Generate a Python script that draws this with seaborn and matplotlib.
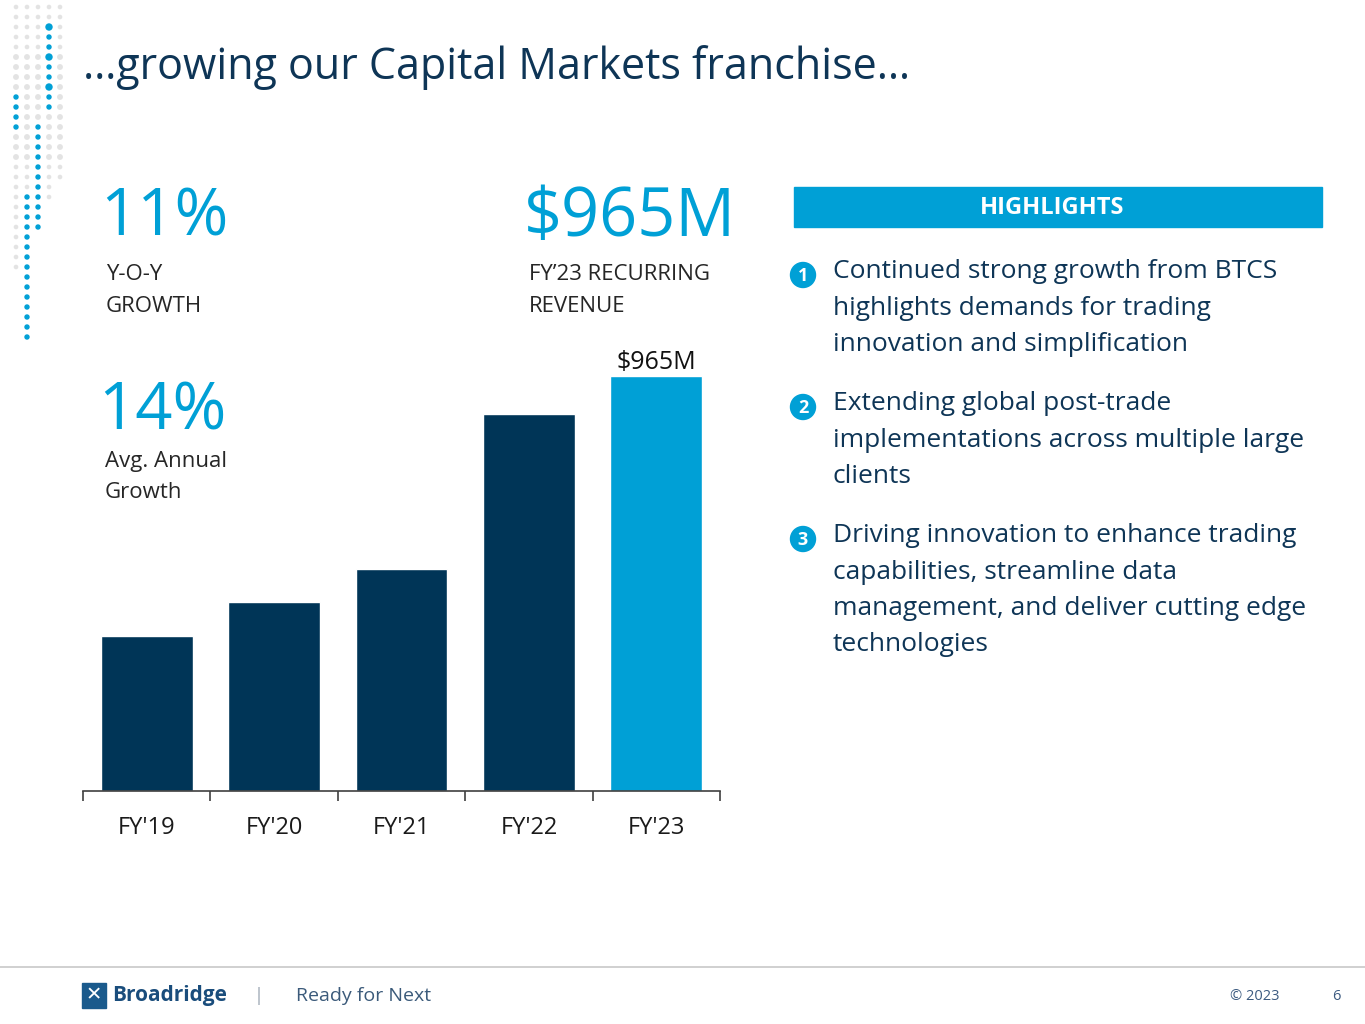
import numpy as np
import pandas as pd
import matplotlib
matplotlib.use("Agg")
import matplotlib.pyplot as plt
from matplotlib.patches import Rectangle, Circle
import seaborn as sns

# Chart data
years = ["FY'19", "FY'20", "FY'21", "FY'22", "FY'23"]
revenue = [360, 439, 516, 877, 965]
bar_colors = ["#003557", "#003557", "#003557", "#003557", "#00A0D6"]
top_label = "$965M"

highlights = [
    ["Continued strong growth from BTCS", "highlights demands for trading",
     "innovation and simplification"],
    ["Extending global post-trade", "implementations across multiple large", "clients"],
    ["Driving innovation to enhance trading", "capabilities, streamline data",
     "management, and deliver cutting edge", "technologies"],
]

W, H = 1365, 1024
NAVY = "#0E3556"
BLUE = "#00A0D6"
GREY_TXT = "#262626"

sns.set_theme(style="white")
plt.rcParams["font.family"] = ["Open Sans", "DejaVu Sans"]

fig = plt.figure(figsize=(W / 100, H / 100), dpi=100)

# overlay axes in pixel coordinates for the slide furniture
bg = fig.add_axes([0, 0, 1, 1], zorder=-1)
bg.set_xlim(0, W)
bg.set_ylim(H, 0)
bg.axis("off")

# Bar chart axes
ax_l, ax_r, ax_b = 83, 720, 791
ymax = 1000
scale = 415 / 965
ax_t = ax_b - ymax * scale
ax = fig.add_axes([ax_l / W, 1 - ax_b / H, (ax_r - ax_l) / W, (ax_b - ax_t) / H])
df = pd.DataFrame({"year": years, "revenue": revenue})
sns.barplot(data=df, x="year", y="revenue", hue="year", palette=bar_colors,
            width=0.72, legend=False, ax=ax, saturation=1)
ax.set_xlim(-0.5, len(years) - 0.5)
ax.set_ylim(0, ymax)
ax.set_xlabel("")
ax.set_ylabel("")
ax.set_yticks([])
for s in ["top", "right", "left"]:
    ax.spines[s].set_visible(False)
ax.spines["bottom"].set_color("#404040")
ax.spines["bottom"].set_linewidth(1.2)
ax.set_xticks(np.arange(len(years) + 1) - 0.5, minor=True)
ax.tick_params(axis="x", which="major", length=0, pad=18, labelsize=17, labelcolor="#1a1a1a")
ax.tick_params(axis="x", which="minor", bottom=True, length=7, width=1.2, color="#404040",
               direction="out")
ax.set_facecolor("none")
ax.annotate(top_label, (len(years) - 1, revenue[-1]), xytext=(0, 1), textcoords="offset points",
            ha="center", va="bottom", fontsize=18, color="#111111")

# Title
bg.text(83, 68, "…growing our Capital Markets franchise…", fontsize=31,
        color=NAVY, va="center", ha="left")

# Big stats
bg.text(100, 218, "11%", fontsize=47, color=BLUE, va="center")
bg.text(106, 274, "Y-O-Y", fontsize=16, color=GREY_TXT, va="center")
bg.text(106, 306, "GROWTH", fontsize=16, color=GREY_TXT, va="center")
bg.text(524, 218, "$965M", fontsize=48, color=BLUE, va="center")
bg.text(529, 274, "FY’23 RECURRING", fontsize=16, color=GREY_TXT, va="center")
bg.text(529, 306, "REVENUE", fontsize=16, color=GREY_TXT, va="center")
bg.text(98, 412, "14%", fontsize=47, color=BLUE, va="center")
bg.text(105, 462, "Avg. Annual", fontsize=16, color=GREY_TXT, va="center")
bg.text(105, 493, "Growth", fontsize=16, color=GREY_TXT, va="center")

# Highlights box
bg.add_patch(Rectangle((794, 187), 1322 - 794, 40, color=BLUE, zorder=0))
bg.text(1052, 208, "HIGHLIGHTS", fontsize=17, fontweight="bold", color="white",
        ha="center", va="center")

starts = [272, 404, 536]
for i, (lines, y0) in enumerate(zip(highlights, starts)):
    bg.add_patch(Circle((803, y0 + 3), 12.5, color=BLUE, zorder=2))
    bg.text(803, y0 + 4, str(i + 1), fontsize=13, fontweight="bold",
            color="white", ha="center", va="center", zorder=3)
    for k, line in enumerate(lines):
        bg.text(833, y0 + k * 36.3, line, fontsize=19, color=NAVY, va="center", ha="left")

# Decorative dot pattern, top-left
dot_cols = [16, 27, 38, 49, 60]
blue_runs = {49: (27, 110), 16: (88, 132), 38: (118, 228), 27: (190, 342)}
for cx in dot_cols:
    for cy in range(7, 345, 10):
        lo, hi = blue_runs.get(cx, (0, -1))
        if lo <= cy <= hi:
            r = 2.0 if (cy - lo) % 30 else 3.0
            c = BLUE
        else:
            if cy > 300 - cx * 2:
                continue
            r = 2.2 if 50 < cy < 160 else 1.6
            c = "#E3E3E3"
        bg.add_patch(Circle((cx, cy), r, color=c, zorder=1))

# Footer
bg.plot([0, W], [967, 967], color="#C8C8C8", lw=1.2)
bg.add_patch(Rectangle((82, 983), 24, 25, color="#1A5A8C", zorder=1))
bg.text(94, 995, "✕", fontsize=14, color="white", ha="center", va="center")
bg.text(112, 996, "Broadridge", fontsize=15, fontweight="bold", color="#1A4D7C", va="center")
bg.text(259, 996, "|", fontsize=13, color="#9AA5B1", va="center", ha="center")
bg.text(296, 996, "Ready for Next", fontsize=14, color="#3B5A7A", va="center")
bg.text(1230, 996, "© 2023", fontsize=10.5, color="#3B5A80", va="center")
bg.text(1332, 996, "6", fontsize=10.5, color="#3B5A80", va="center")

fig.savefig("out.png", dpi=100)
